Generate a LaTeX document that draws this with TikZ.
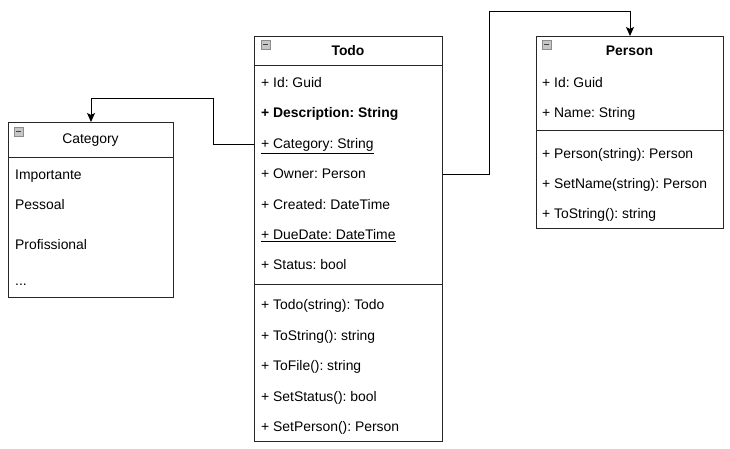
\documentclass[tikz,border=0pt]{standalone}
\usepackage{fontspec}
\setmainfont{Liberation Sans}
\frenchspacing
\usetikzlibrary{arrows.meta}
\begin{document}
\begin{tikzpicture}[x=1pt,y=-1pt,
  box/.style={draw=black!85,line width=1pt,anchor=north west,inner sep=0pt},
  sep/.style={draw=black!85,line width=1pt},
  fld/.style={anchor=west,inner sep=0pt,yshift=-2pt,font=\frenchspacing\fontsize{13.9}{16}\selectfont,text height=10pt,text depth=3pt},
  ttl/.style={inner sep=0pt,yshift=-1.5pt,font=\fontsize{13.9}{16}\selectfont,text height=10pt,text depth=3pt},
  icon/.style={draw=gray!90,fill=gray!45,line width=0.7pt,inner sep=0pt,minimum size=9pt,anchor=north west},
  conn/.style={draw=black,line width=1pt,-{Stealth[length=9pt,width=8pt,inset=2pt]}}
]
\useasboundingbox (0,0) rectangle (730,449);
\fill[white] (0,0) rectangle (730,449);

% Todo
\node[box,minimum width=188pt,minimum height=405pt] (todo) at (254,36) {};
\draw[sep] (254,66) -- (442,66);
\draw[sep] (254,284) -- (442,284);
\node[ttl,font=\fontsize{13.9}{16}\selectfont\bfseries] (todot) at (348,51) {Todo};
\node[icon] (todoi) at (261,40) {};
\draw[black!75,line width=1.2pt] (263,44.5) -- (268,44.5);
\node[fld] (tid) at (261,82) {+ Id: Guid};
\node[fld,font=\frenchspacing\fontsize{13.9}{16}\selectfont\bfseries] (tdesc) at (261,112) {+ Description: String};
\node[fld] (tcat) at (261,143) {\underline{+ Category: String}};
\node[fld] (towner) at (261,173) {+ Owner: Person};
\node[fld] (tcreated) at (261,204) {+ Created: DateTime};
\node[fld] (tdue) at (261,234) {\underline{+ DueDate: DateTime}};
\node[fld] (tstatus) at (261,264) {+ Status: bool};
\node[fld] (tm1) at (261,304) {+ Todo(string): Todo};
\node[fld] (tm2) at (261,335) {+ ToString(): string};
\node[fld] (tm3) at (261,365) {+ ToFile(): string};
\node[fld] (tm4) at (261,396) {+ SetStatus(): bool};
\node[fld] (tm5) at (261,426) {+ SetPerson(): Person};

% Category
\node[box,minimum width=165pt,minimum height=175pt] (cat) at (8,122) {};
\draw[sep] (8,158) -- (173,158);
\node[ttl] (catt) at (90.5,139) {Category};
\node[icon] (cati) at (14,127) {};
\draw[black!75,line width=1.2pt] (16,131.5) -- (21,131.5);
\node[fld] (c1) at (15,174) {Importante};
\node[fld] (c2) at (15,204) {Pessoal};
\node[fld] (c3) at (15,244) {Profissional};
\node[fld] (c4) at (15,280) {...};

% Person
\node[box,minimum width=187pt,minimum height=192pt] (person) at (536,36) {};
\draw[sep] (536,131) -- (723,131);
\node[ttl,font=\fontsize{13.9}{16}\selectfont\bfseries] (persont) at (629.5,51) {Person};
\node[icon] (personi) at (542,40) {};
\draw[black!75,line width=1.2pt] (544,44.5) -- (549,44.5);
\node[fld] (pid) at (542,82) {+ Id: Guid};
\node[fld] (pname) at (542,112) {+ Name: String};
\node[fld] (pm1) at (542,153) {+ Person(string): Person};
\node[fld] (pm2) at (542,183) {+ SetName(string): Person};
\node[fld] (pm3) at (542,213) {+ ToString(): string};

% connectors
\coordinate (b1) at (213,99);
\coordinate (b2) at (489,12);
\draw[conn] (todo.west |- tcat) -| (b1) -| (cat.north);
\draw[conn] (todo.east |- towner) -| (b2) -| (person.north);
\end{tikzpicture}
\end{document}
